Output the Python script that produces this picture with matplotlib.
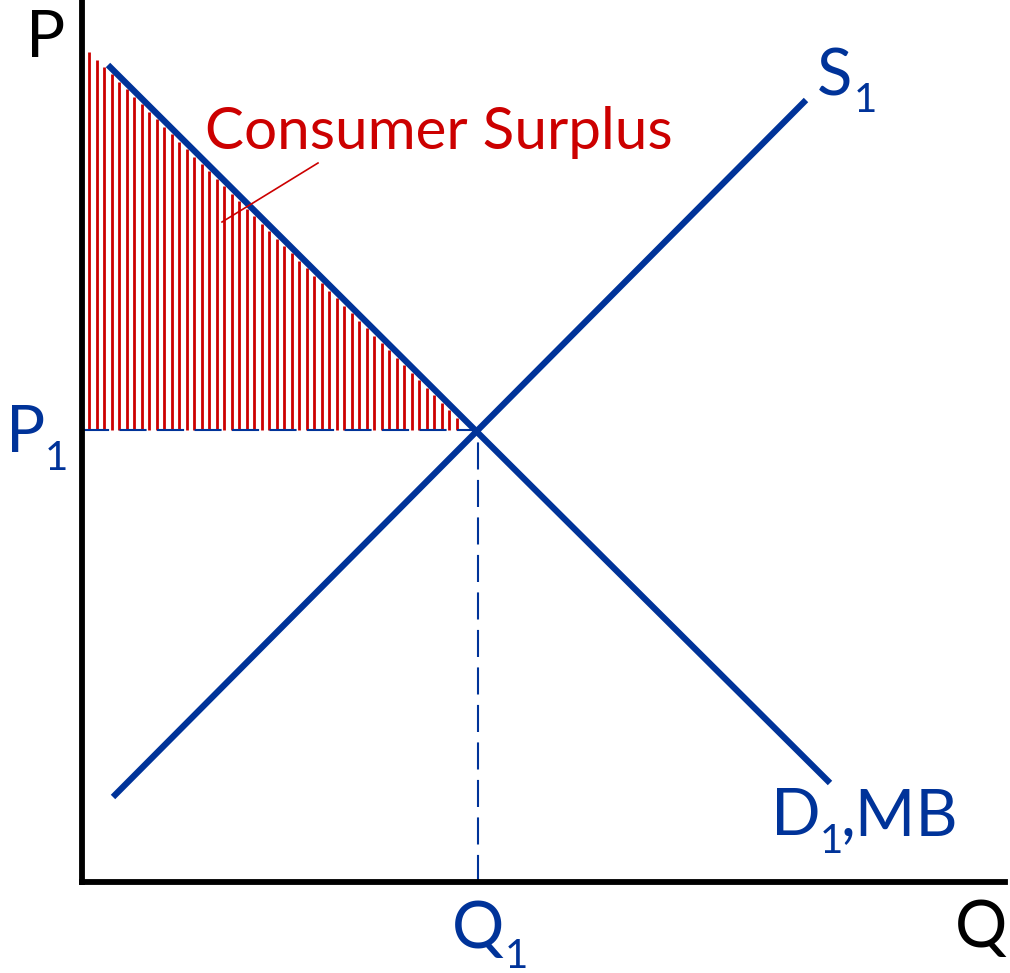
import numpy as np
import matplotlib.pyplot as plt

plt.rcParams['font.family'] = ['Lato', 'DejaVu Sans']

BLUE = '#003399'
RED = '#CC0000'

# curve end points (Q, P) in arbitrary units
demand_q = [0.26, 7.48]
demand_p = [8.17, 0.99]
supply_q = [0.31, 7.24]
supply_p = [0.85, 7.82]
q1, p1 = 3.96, 4.52
q_max, p_max = 9.23, 8.80

fig = plt.figure(figsize=(10.1, 9.73), dpi=100)
ax = fig.add_axes([0, 0, 1, 1])
ax.set_xlim(-0.82, 9.28)
ax.set_ylim(-0.91, 8.82)
ax.axis('off')

# consumer surplus stripes under the demand curve
slope = (demand_p[1] - demand_p[0]) / (demand_q[1] - demand_q[0])
stripe_q = np.arange(0.07, q1 - 0.15, 0.075)
stripe_top = demand_p[0] + (stripe_q - demand_q[0]) * slope - 0.06
ax.vlines(stripe_q, p1, stripe_top, color=RED, lw=2.0)

# dashed guides
ax.plot([0, q1], [p1, p1], color=BLUE, lw=1.5, dashes=(13, 5))
ax.plot([q1, q1], [0, p1], color=BLUE, lw=1.5, dashes=(13, 5))

# curves
ax.plot(demand_q, demand_p, color=BLUE, lw=4.5, solid_capstyle='butt')
ax.plot(supply_q, supply_p, color=BLUE, lw=4.5, solid_capstyle='butt')

# axes
ax.plot([0, 0], [0, p_max], color='black', lw=4.2, solid_capstyle='projecting')
ax.plot([0, q_max], [0, 0], color='black', lw=4.2, solid_capstyle='projecting')

# labels: main text and lowered subscript
big, small = 47, 29
ax.text(-0.56, 8.25, 'P', fontsize=big, va='baseline')
ax.text(8.73, -0.65, 'Q', fontsize=big, va='baseline')

ax.text(-0.76, 4.30, 'P', fontsize=big, color=BLUE, va='baseline')
ax.text(-0.37, 4.12, '1', fontsize=small, color=BLUE, va='baseline')

ax.text(3.70, -0.66, 'Q', fontsize=big, color=BLUE, va='baseline')
ax.text(4.23, -0.86, '1', fontsize=small, color=BLUE, va='baseline')

ax.text(7.35, 7.87, 'S', fontsize=big, color=BLUE, va='baseline')
ax.text(7.72, 7.70, '1', fontsize=small, color=BLUE, va='baseline')

ax.text(6.89, 0.47, 'D', fontsize=big, color=BLUE, va='baseline')
ax.text(7.38, 0.29, '1', fontsize=small, color=BLUE, va='baseline')
ax.text(7.59, 0.47, ',MB', fontsize=big, color=BLUE, va='baseline')

ax.text(1.23, 7.33, 'Consumer Surplus', fontsize=42, color=RED, va='baseline')
ax.plot([1.40, 2.36], [6.60, 7.19], color=RED, lw=1.2)

fig.savefig('out.png', dpi=100)
